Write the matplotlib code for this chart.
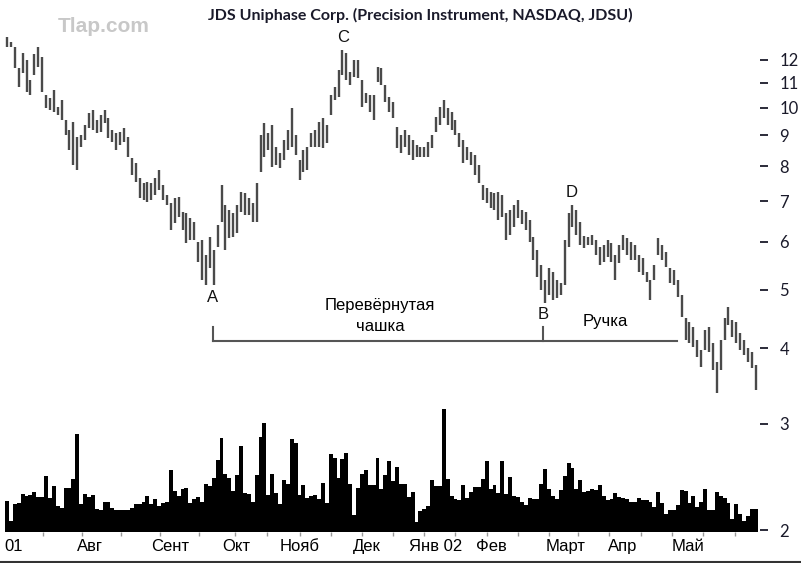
import numpy as np
import matplotlib.pyplot as plt
from matplotlib.lines import Line2D
from matplotlib.transforms import blended_transform_factory

# daily bars, JDSU, July 2001 - May 2002
high = [13.10, 12.85, 12.61, 11.64, 12.33, 12.00, 11.12, 12.28, 12.61, 12.14,
        10.50, 10.38, 10.70, 10.03, 10.30, 9.55, 9.19, 9.48, 8.95, 9.02,
        9.37, 9.81, 9.92, 9.55, 9.73, 9.92, 9.62, 9.19, 9.09, 9.12,
        9.26, 8.95, 8.26, 8.11, 7.65, 7.50, 7.53, 7.50, 7.65, 7.89,
        7.45, 7.17, 6.96, 7.09, 7.12, 6.72, 6.69, 6.57, 6.47, 5.99,
        6.04, 5.71, 6.11, 5.82, 6.40, 7.45, 6.90, 6.77, 6.69, 6.90,
        7.25, 7.23, 7.09, 6.96, 7.50, 9.02, 9.44, 9.09, 9.37, 8.61,
        8.41, 8.85, 9.19, 9.99, 9.02, 8.20, 8.51, 8.61, 9.09, 9.19,
        9.48, 9.62, 9.37, 10.50, 10.83, 11.55, 12.47, 12.33, 11.46, 12.00,
        12.00, 11.12, 10.58, 10.50, 10.50, 11.68, 11.64, 10.91, 10.42, 10.22,
        9.30, 9.02, 9.19, 9.02, 8.85, 8.68, 8.61, 8.61, 8.78, 9.02,
        9.66, 10.03, 10.30, 9.99, 9.84, 9.55, 9.09, 8.85, 8.61, 8.45,
        8.35, 8.04, 7.45, 7.37, 7.25, 7.23, 7.25, 7.17, 6.69, 6.77,
        6.90, 7.04, 6.77, 6.72, 6.52, 6.11, 5.82, 5.49, 5.19, 5.43,
        5.35, 5.19, 5.13, 6.04, 6.69, 6.90, 6.77, 6.47, 6.14, 6.11,
        6.16, 6.04, 5.88, 5.93, 6.04, 5.97, 5.71, 5.93, 6.16, 6.09,
        5.99, 5.93, 5.71, 5.65, 5.35, 5.19, 5.49, 6.09, 5.93, 5.78,
        5.43, 5.39, 5.19, 4.90, 4.49, 4.42, 4.34, 4.13, 3.97, 4.29,
        4.34, 4.08, 3.79, 4.13, 4.49, 4.68, 4.45, 4.42, 4.24, 4.13,
        4.00, 3.94, 3.75]
low = [12.61, 12.61, 11.64, 10.83, 11.42, 10.62, 10.50, 11.33, 11.68, 10.62,
       9.99, 9.92, 9.84, 9.73, 9.55, 9.02, 8.51, 8.04, 7.89, 8.61,
       8.85, 9.26, 9.19, 9.09, 9.12, 9.44, 8.92, 8.78, 8.51, 8.68,
       8.78, 8.29, 7.74, 7.53, 7.09, 7.04, 6.99, 7.04, 7.17, 7.31,
       7.04, 6.90, 6.28, 6.45, 6.60, 6.28, 5.97, 6.04, 6.04, 5.56,
       5.19, 5.09, 5.43, 5.09, 5.88, 6.47, 5.82, 6.09, 6.11, 6.21,
       6.72, 6.65, 6.65, 6.47, 6.47, 7.83, 8.29, 8.51, 7.98, 8.04,
       7.95, 8.20, 8.51, 8.61, 8.35, 7.59, 7.83, 7.89, 8.61, 8.61,
       8.61, 8.58, 8.75, 9.73, 10.30, 10.42, 11.33, 11.12, 10.91, 11.24,
       11.20, 10.03, 10.18, 9.84, 9.55, 11.04, 10.91, 10.22, 9.84, 9.62,
       8.58, 8.41, 8.61, 8.35, 8.20, 8.29, 8.29, 8.29, 8.29, 8.58,
       9.12, 9.37, 9.62, 9.37, 9.19, 9.02, 8.61, 8.11, 8.20, 8.04,
       7.74, 7.50, 7.04, 6.96, 6.82, 6.77, 6.52, 6.60, 6.04, 6.16,
       6.35, 6.57, 6.42, 6.28, 5.99, 5.60, 5.25, 4.99, 4.76, 4.90,
       4.81, 4.84, 4.90, 5.09, 5.88, 6.35, 6.16, 5.93, 5.86, 5.93,
       5.93, 5.71, 5.49, 5.56, 5.67, 5.56, 5.19, 5.54, 5.82, 5.71,
       5.60, 5.60, 5.35, 5.29, 5.15, 4.81, 5.19, 5.71, 5.60, 5.45,
       5.13, 5.09, 4.86, 4.51, 4.13, 4.08, 4.02, 3.87, 3.72, 3.97,
       3.94, 3.68, 3.37, 3.68, 4.13, 4.37, 4.18, 4.08, 3.97, 3.90,
       3.79, 3.71, 3.41]
# volume, relative units
volume = [31, 11, 28, 29, 38, 36, 37, 40, 35, 35,
          56, 34, 46, 26, 24, 44, 44, 53, 98, 28,
          38, 35, 37, 23, 22, 30, 30, 24, 22, 22,
          22, 22, 24, 28, 28, 30, 36, 28, 33, 26,
          29, 30, 62, 41, 36, 43, 44, 29, 33, 35,
          30, 48, 46, 54, 72, 94, 58, 54, 41, 57,
          86, 39, 38, 30, 57, 95, 109, 37, 58, 39,
          28, 52, 48, 93, 89, 37, 47, 34, 36, 37,
          33, 49, 29, 78, 74, 54, 73, 79, 48, 17,
          44, 58, 62, 47, 47, 74, 43, 57, 71, 51,
          65, 48, 48, 35, 40, 10, 21, 23, 26, 52,
          46, 46, 123, 53, 36, 33, 32, 47, 34, 40,
          45, 45, 53, 71, 43, 47, 39, 71, 38, 55,
          36, 35, 30, 27, 34, 33, 33, 48, 63, 43,
          36, 33, 42, 56, 69, 64, 43, 52, 40, 41,
          43, 42, 47, 36, 32, 33, 39, 35, 34, 33,
          30, 30, 34, 32, 32, 30, 25, 40, 29, 18,
          22, 22, 27, 42, 41, 29, 36, 25, 30, 43,
          22, 22, 40, 36, 34, 29, 13, 28, 18, 11,
          16, 23, 23]

months = ['01', 'Авг', 'Сент', 'Окт', 'Нояб', 'Дек', 'Янв 02', 'Фев', 'Март', 'Апр', 'Май']
month_idx = [1.8, 21.3, 41.8, 58.7, 75.1, 92.3, 110.0, 124.1, 143.3, 157.9, 174.6]
# small ticks on the time axis (bar index)
tick_idx = [9.2, 19.2, 29.2, 39.2, 49.2, 58.5, 66.7, 75, 83, 91, 99, 107, 115, 123,
            131, 139, 146.4, 154.4, 162.6, 170.5, 178.5, 186.7]
price_ticks = [2, 3, 4, 5, 6, 7, 8, 9, 10, 11, 12]

W, H = 801, 563
fig = plt.figure(figsize=(W / 100, H / 100), dpi=100)
rect = [3 / W, (H - 532) / H, 757 / W, 502 / H]

# объём снизу
axv = fig.add_axes(rect)
ax = fig.add_axes(rect, sharex=axv)
ax.patch.set_visible(False)

n = len(high)
idx = np.arange(n)
axv.stairs(volume, np.arange(n + 1) - 0.5, fill=True, color='black', linewidth=0)
axv.set_ylim(0, 502)
axv.set_yticks([])
axv.set_xticks(tick_idx)
axv.tick_params(axis='x', direction='out', length=3, width=1, color='#999999', labelbottom=False)

# бары цены
ax.vlines(idx, low, high, color='#4a4a4a', linewidth=1.7)
ax.set_yscale('log')
ax.set_ylim(1.985, 13.45)
ax.set_xlim(-1.03, 193.08)
ax.yaxis.tick_right()
ax.set_yticks(price_ticks)
ax.set_yticklabels([str(t) for t in price_ticks])
ax.yaxis.set_minor_locator(plt.NullLocator())
ax.tick_params(axis='y', direction='out', length=6, width=1.3, pad=8,
               labelsize=12, colors='#1a1a2a')
for lbl in ax.get_yticklabels():
    lbl.set_family('Lato')
ax.tick_params(axis='x', bottom=False, labelbottom=False)

for a in (ax, axv):
    for s in a.spines.values():
        s.set_visible(False)

# подписи месяцев
tr = blended_transform_factory(ax.transData, ax.transAxes)
for m, pos in zip(months, month_idx):
    ax.text(pos, -0.028, m, transform=tr, ha='center', va='center',
            fontsize=12, family='Liberation Sans', color='black')

# разметка фигуры
txt = dict(family='Liberation Sans', fontsize=12, ha='center', va='center', color='#111111')
ax.text(52.8, 4.86, 'A', **txt)
ax.text(86.2, 13.05, 'C', **txt)
ax.text(137.4, 4.54, 'B', **txt)
ax.text(144.9, 7.25, 'D', **txt)

ax.plot([52.8, 171.8], [4.11, 4.11], color='#555555', lw=1.5)
ax.plot([52.8, 52.8], [4.11, 4.34], color='#555555', lw=1.5)
ax.plot([137.4, 137.4], [4.11, 4.34], color='#555555', lw=1.5)

lab = dict(family='Liberation Sans', fontsize=12, ha='center', va='center', color='black')
ax.text(95.6, 4.70, 'Перевёрнутая', **lab)
ax.text(95.6, 4.35, 'чашка', **lab)
ax.text(153.3, 4.42, 'Ручка', **lab)

fig.text(420 / W, 1 - 15 / H, 'JDS Uniphase Corp. (Precision Instrument, NASDAQ, JDSU)',
         ha='center', va='center', fontsize=11.5, fontweight='bold', family='Lato', color='#1a1a2a')
fig.text(104 / W, 1 - 27 / H, 'Tlap.com', ha='center', va='center', fontsize=15,
         fontweight='bold', family='Liberation Sans', color='#c8c8c8')

fig.add_artist(Line2D([0, 1], [1 - 561.5 / H] * 2, color='#333333', lw=1.5,
                      transform=fig.transFigure))

fig.savefig('out.png', dpi=100)
